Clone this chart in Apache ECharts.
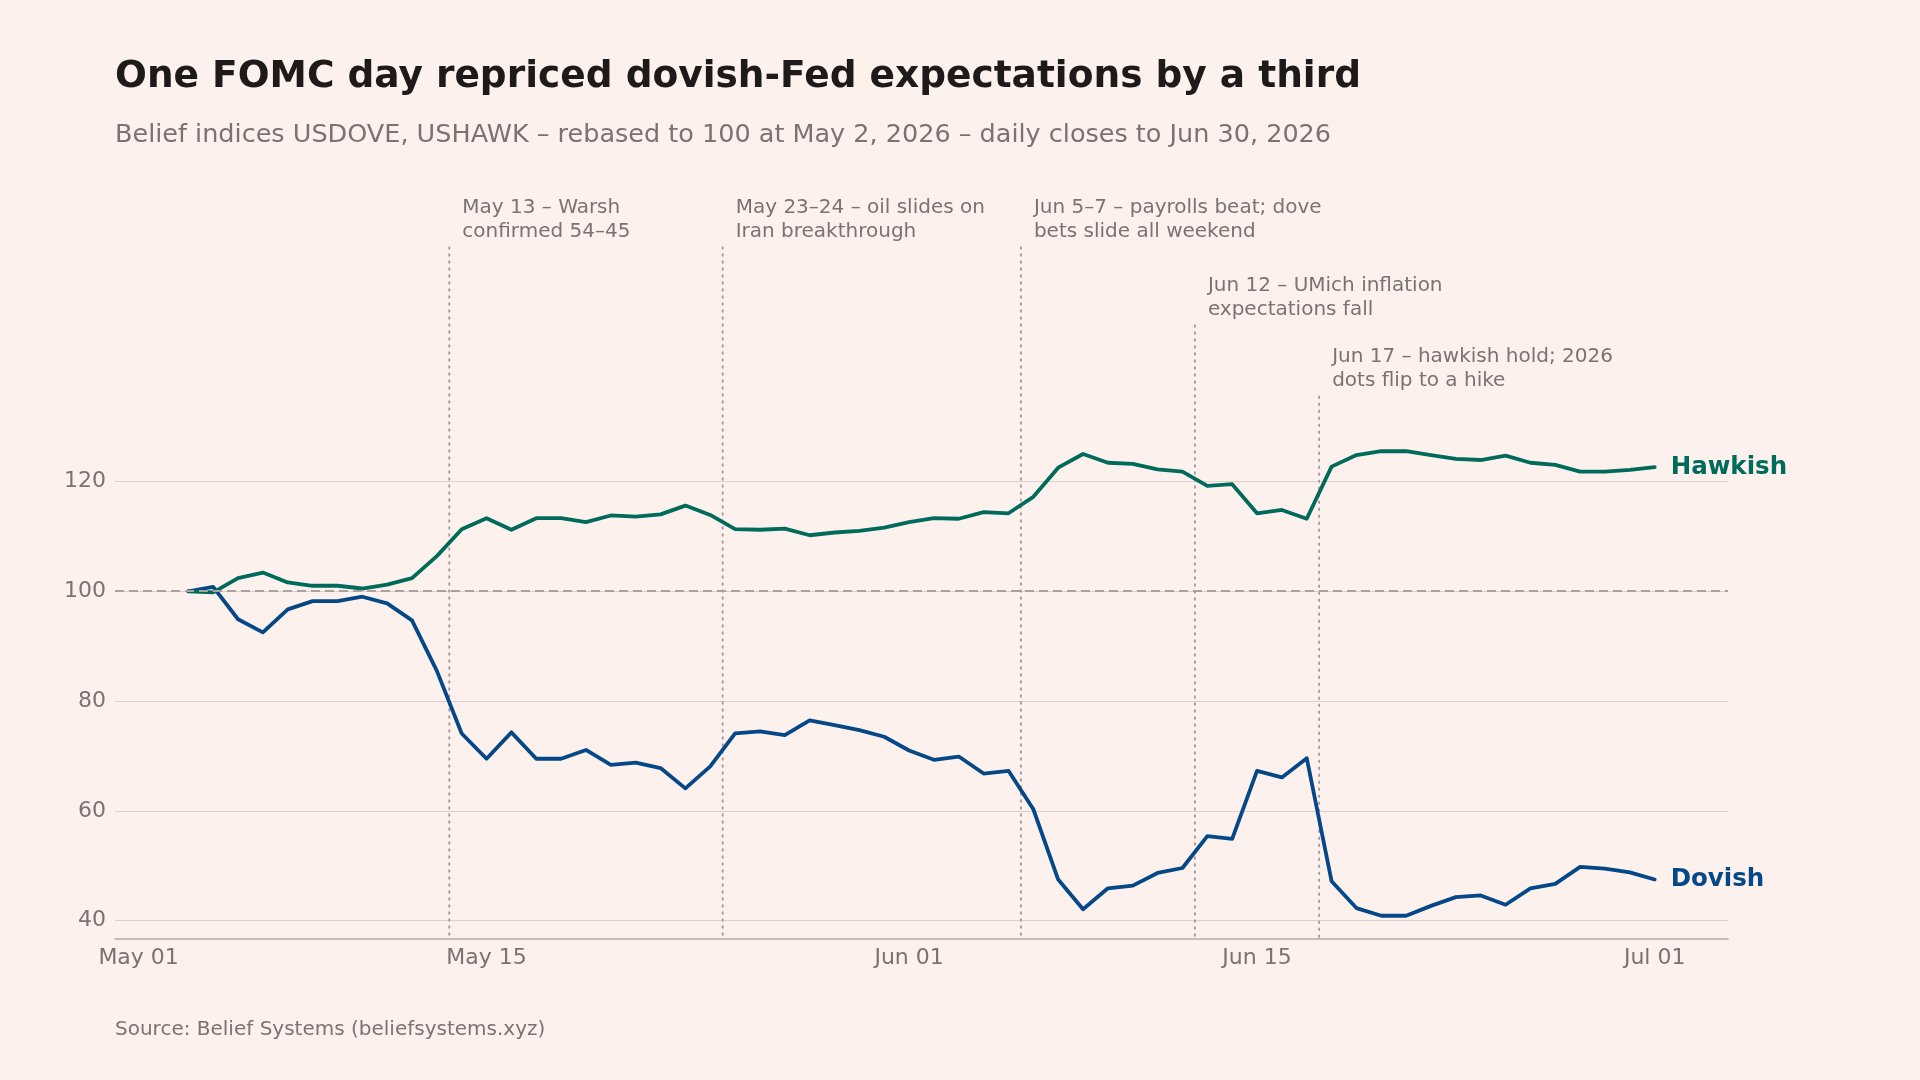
<!DOCTYPE html>
<html>
<head>
<meta charset="utf-8">
<style>
  html, body { margin: 0; padding: 0; background: #fdf1ee; }
  #main { width: 1920px; height: 1080px; }
</style>
<script src="https://cdn.jsdelivr.net/npm/echarts@6/dist/echarts.min.js"></script>
</head>
<body>
<div id="main"></div>
<script>
// daily closes from May 2, 2026 to Jun 30, 2026, rebased to 100
var firstClose = new Date(2026, 4, 2);
var dovish = [100, 100.8, 94.9, 92.5, 96.7, 98.2, 98.2, 99.0, 97.8, 94.7,
    85.5, 74.1, 69.5, 74.3, 69.5, 69.5, 71.1, 68.4, 68.8, 67.8,
    64.1, 68.1, 74.1, 74.5, 73.8, 76.5, 75.6, 74.7, 73.5, 71.0,
    69.3, 69.9, 66.8, 67.3, 60.3, 47.5, 42.1, 45.9, 46.4, 48.7,
    49.6, 55.4, 54.9, 67.3, 66.1, 69.6, 47.2, 42.3, 40.9, 40.9,
    42.7, 44.3, 44.6, 42.9, 45.9, 46.7, 49.8, 49.5, 48.8, 47.5];
var hawkish = [100, 99.8, 102.4, 103.4, 101.6, 101.0, 101.0, 100.5, 101.2, 102.4,
    106.4, 111.3, 113.3, 111.2, 113.3, 113.3, 112.6, 113.8, 113.6, 114.0,
    115.6, 113.9, 111.3, 111.2, 111.4, 110.2, 110.7, 111.0, 111.6, 112.6,
    113.3, 113.2, 114.4, 114.2, 117.2, 122.5, 125.0, 123.4, 123.2, 122.2,
    121.8, 119.2, 119.5, 114.2, 114.8, 113.2, 122.7, 124.8, 125.5, 125.5,
    124.8, 124.1, 123.9, 124.7, 123.4, 123.0, 121.8, 121.8, 122.1, 122.6];

var xTicks = ['2026-05-01', '2026-05-15', '2026-06-01', '2026-06-15', '2026-07-01'];
var yTicks = [40, 60, 80, 100, 120];

var eventTimes = ['2026-05-13T12:00', '2026-05-24T12:00', '2026-06-05T12:00', '2026-06-12T12:00', '2026-06-17T12:00'];
var eventTexts = [
    'May 13 \u2013 Warsh\nconfirmed 54\u201345',
    'May 23\u201324 \u2013 oil slides on\nIran breakthrough',
    'Jun 5\u20137 \u2013 payrolls beat; dove\nbets slide all weekend',
    'Jun 12 \u2013 UMich inflation\nexpectations fall',
    'Jun 17 \u2013 hawkish hold; 2026\ndots flip to a hike'
];
var eventTops = [162.8, 162.8, 162.8, 148.6, 135.6];

var DAY = 86400000;
var months = ['Jan', 'Feb', 'Mar', 'Apr', 'May', 'Jun', 'Jul', 'Aug', 'Sep', 'Oct', 'Nov', 'Dec'];
var FONT = '"DejaVu Sans", sans-serif';
var GREY = '#7b7272';

function localTime(s) {
    var p = s.split(/[-T:]/);
    return new Date(+p[0], +p[1] - 1, +p[2], p[3] ? +p[3] : 0, p[4] ? +p[4] : 0).getTime();
}

// each close is plotted at the end of its day
var times = dovish.map(function (v, i) {
    return firstClose.getTime() + (i + 1) * DAY;
});
var dovSeries = times.map(function (t, i) { return [t, dovish[i]]; });
var hawkSeries = times.map(function (t, i) { return [t, hawkish[i]]; });

var lo = Math.min.apply(null, dovish.concat(hawkish));
var hi = Math.max.apply(null, dovish.concat(hawkish));
var yMin = lo - 0.05 * (hi - lo), yMax = hi + 0.05 * (hi - lo);
var xPad = 0.05 * (times[times.length - 1] - times[0]);

var myChart = echarts.init(document.getElementById('main'));

myChart.setOption({
    animation: false,
    backgroundColor: '#fdf1ee',
    grid: { left: 115, right: 192, top: 428, bottom: 141 },
    xAxis: {
        type: 'value',
        min: times[0] - xPad,
        max: times[times.length - 1] + xPad,
        axisLine: { show: true, lineStyle: { color: '#b4a9a8', width: 1.6 } },
        axisTick: { show: false, customValues: xTicks.map(localTime) },
        splitLine: { show: false },
        axisLabel: {
            customValues: xTicks.map(localTime),
            margin: 8,
            color: GREY,
            fontSize: 22,
            fontFamily: FONT,
            formatter: function (v) {
                var d = new Date(v);
                var dd = d.getDate();
                return months[d.getMonth()] + ' ' + (dd < 10 ? '0' + dd : dd);
            }
        }
    },
    yAxis: {
        type: 'value',
        min: yMin,
        max: yMax,
        axisLine: { show: false },
        axisTick: { show: false, customValues: yTicks },
        splitLine: { show: true, lineStyle: { color: '#dccfce', width: 1.2 } },
        axisLabel: {
            customValues: yTicks,
            margin: 9,
            color: GREY,
            fontSize: 22,
            fontFamily: FONT
        }
    },
    series: [{
        name: 'base',
        type: 'line',
        data: [],
        z: 1,
        markLine: {
            silent: true,
            symbol: 'none',
            label: { show: false },
            lineStyle: { type: [9, 5], color: '#aaa1a1', width: 1.8 },
            data: [{ yAxis: 100 }]
        }
    }, {
        name: 'Dovish',
        type: 'line',
        data: dovSeries,
        showSymbol: false,
        z: 3,
        lineStyle: { color: '#054887', width: 3.8, join: 'round', cap: 'round' },
        itemStyle: { color: '#054887' },
        endLabel: {
            show: true,
            formatter: '{a}',
            distance: 16,
            color: '#054887',
            fontSize: 24.5,
            fontWeight: 'bold',
            fontFamily: FONT
        }
    }, {
        name: 'Hawkish',
        type: 'line',
        data: hawkSeries,
        showSymbol: false,
        z: 4,
        lineStyle: { color: '#016b5b', width: 3.8, join: 'round', cap: 'round' },
        itemStyle: { color: '#016b5b' },
        endLabel: {
            show: true,
            formatter: '{a}',
            distance: 16,
            color: '#016b5b',
            fontSize: 24.5,
            fontWeight: 'bold',
            fontFamily: FONT
        }
    }]
});

// titles, event markers and source placed with the chart's own scales
var graphics = [{
    type: 'text', x: 115, y: 77,
    style: { text: 'One FOMC day repriced dovish-Fed expectations by a third', font: 'bold 37.5px ' + FONT, fill: '#1e1a1a', verticalAlign: 'middle' }
}, {
    type: 'text', x: 115, y: 135,
    style: { text: 'Belief indices USDOVE, USHAWK \u2013 rebased to 100 at May 2, 2026 \u2013 daily closes to Jun 30, 2026', font: '25.5px ' + FONT, fill: GREY, verticalAlign: 'middle' }
}, {
    type: 'text', x: 115, y: 1030,
    style: { text: 'Source: Belief Systems (beliefsystems.xyz)', font: '20px ' + FONT, fill: GREY, verticalAlign: 'middle' }
}];

eventTimes.forEach(function (s, i) {
    var t = localTime(s);
    var top = myChart.convertToPixel({ gridIndex: 0 }, [t, eventTops[i]]);
    var bottom = myChart.convertToPixel({ gridIndex: 0 }, [t, yMin]);
    graphics.push({
        type: 'line', silent: true, z: 1,
        shape: { x1: top[0], y1: top[1], x2: bottom[0], y2: bottom[1] },
        style: { stroke: '#a2989a', lineWidth: 1.8, lineDash: [3, 4] }
    });
    graphics.push({
        type: 'text', x: top[0] + 13, y: top[1] - 51,
        style: { text: eventTexts[i], font: '20px ' + FONT, fill: GREY, lineHeight: 24, verticalAlign: 'top', align: 'left' }
    });
});

myChart.setOption({ graphic: graphics });
</script>
</body>
</html>
